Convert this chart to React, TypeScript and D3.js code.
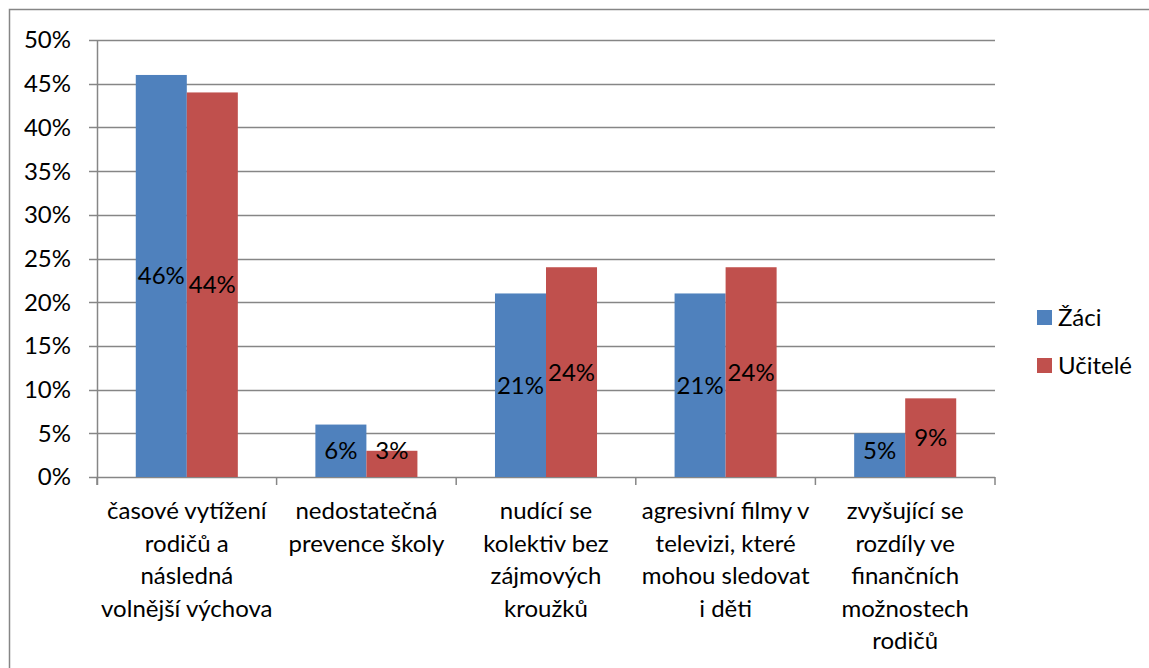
import React from "react";
import * as d3 from "d3";

const categories: string[][] = [
  ["časové vytížení", "rodičů a", "následná", "volnější výchova"],
  ["nedostatečná", "prevence školy"],
  ["nudící se", "kolektiv bez", "zájmových", "kroužků"],
  ["agresivní filmy v", "televizi, které", "mohou sledovat", "i děti"],
  ["zvyšující se", "rozdíly ve", "finančních", "možnostech", "rodičů"],
];
const seriesNames = ["Žáci", "Učitelé"];
const zaci = [0.46, 0.06, 0.21, 0.21, 0.05];
const ucitele = [0.44, 0.03, 0.24, 0.24, 0.09];
const yTicks = [0, 0.05, 0.1, 0.15, 0.2, 0.25, 0.3, 0.35, 0.4, 0.45, 0.5];
const colors = ["#4F81BD", "#C0504D"];

const W = 1149;
const H = 668;
const plot = { left: 97, right: 995, top: 40, bottom: 477 };
const FONT = "Lato, 'Open Sans', sans-serif";
const FS = 24;

export default function App() {
  const series = [zaci, ucitele];
  const x0 = d3
    .scaleBand<number>()
    .domain(d3.range(categories.length))
    .range([plot.left, plot.right])
    .paddingInner(0)
    .paddingOuter(0);
  const x1 = d3
    .scaleBand<number>()
    .domain([0, 1])
    .range([0, x0.bandwidth()])
    .paddingOuter(0.76)
    .paddingInner(0);
  const y = d3.scaleLinear().domain([0, 0.5]).range([plot.bottom, plot.top]);
  const fmt = d3.format(".0%");

  return (
    <div style={{ position: "fixed", left: 0, top: 0 }}>
      <svg width={W} height={H} style={{ display: "block" }} fontFamily={FONT}>
        <rect x={0} y={0} width={W} height={H} fill="#fff" />
        <rect x={9.5} y={9.5} width={W + 20} height={H + 20} fill="none" stroke="#868686" strokeWidth={1.5} />
        {yTicks.map((t) => (
          <line
            key={t}
            x1={plot.left - 8}
            x2={plot.right}
            y1={Math.round(y(t)) + 0.5}
            y2={Math.round(y(t)) + 0.5}
            stroke="#868686"
            strokeWidth={1.5}
          />
        ))}
        <line x1={plot.left + 0.5} x2={plot.left + 0.5} y1={plot.top} y2={plot.bottom + 8} stroke="#868686" strokeWidth={1.5} />
        {d3.range(categories.length + 1).map((i) => {
          const xx = plot.left + i * x0.step();
          return (
            <line key={i} x1={xx} x2={xx} y1={plot.bottom} y2={plot.bottom + 8} stroke="#868686" strokeWidth={1.5} />
          );
        })}
        {yTicks.map((t) => (
          <text key={t} x={71} y={y(t)} dy="0.35em" textAnchor="end" fontSize={FS} fill="#000">
            {fmt(t)}
          </text>
        ))}
        {series.map((vals, s) =>
          vals.map((v, i) => {
            const bx = (x0(i) as number) + (x1(s) as number);
            const top = y(v);
            return (
              <rect key={`${s}-${i}`} x={bx} y={top} width={x1.bandwidth()} height={plot.bottom - top} fill={colors[s]} />
            );
          })
        )}
        {series.map((vals, s) =>
          vals.map((v, i) => {
            const bx = (x0(i) as number) + (x1(s) as number) + x1.bandwidth() / 2;
            const mid = Math.min((y(v) + plot.bottom) / 2, plot.bottom - 26);
            return (
              <text key={`l${s}-${i}`} x={bx} y={mid} dy="0.35em" textAnchor="middle" fontSize={FS} fill="#000">
                {fmt(v)}
              </text>
            );
          })
        )}
        {categories.map((lines, i) => (
          <text key={i} x={(x0(i) as number) + x0.bandwidth() / 2} y={518} textAnchor="middle" fontSize={FS} fill="#000">
            {lines.map((ln, k) => (
              <tspan key={k} x={(x0(i) as number) + x0.bandwidth() / 2} y={519 + k * 32.5}>
                {ln}
              </tspan>
            ))}
          </text>
        ))}
        {seriesNames.map((n, s) => (
          <g key={n} transform={`translate(1037, ${310 + s * 48})`}>
            <rect x={0} y={0} width={15} height={15} fill={colors[s]} />
            <text x={21} y={16} fontSize={FS} fill="#000">
              {n}
            </text>
          </g>
        ))}
      </svg>
    </div>
  );
}
